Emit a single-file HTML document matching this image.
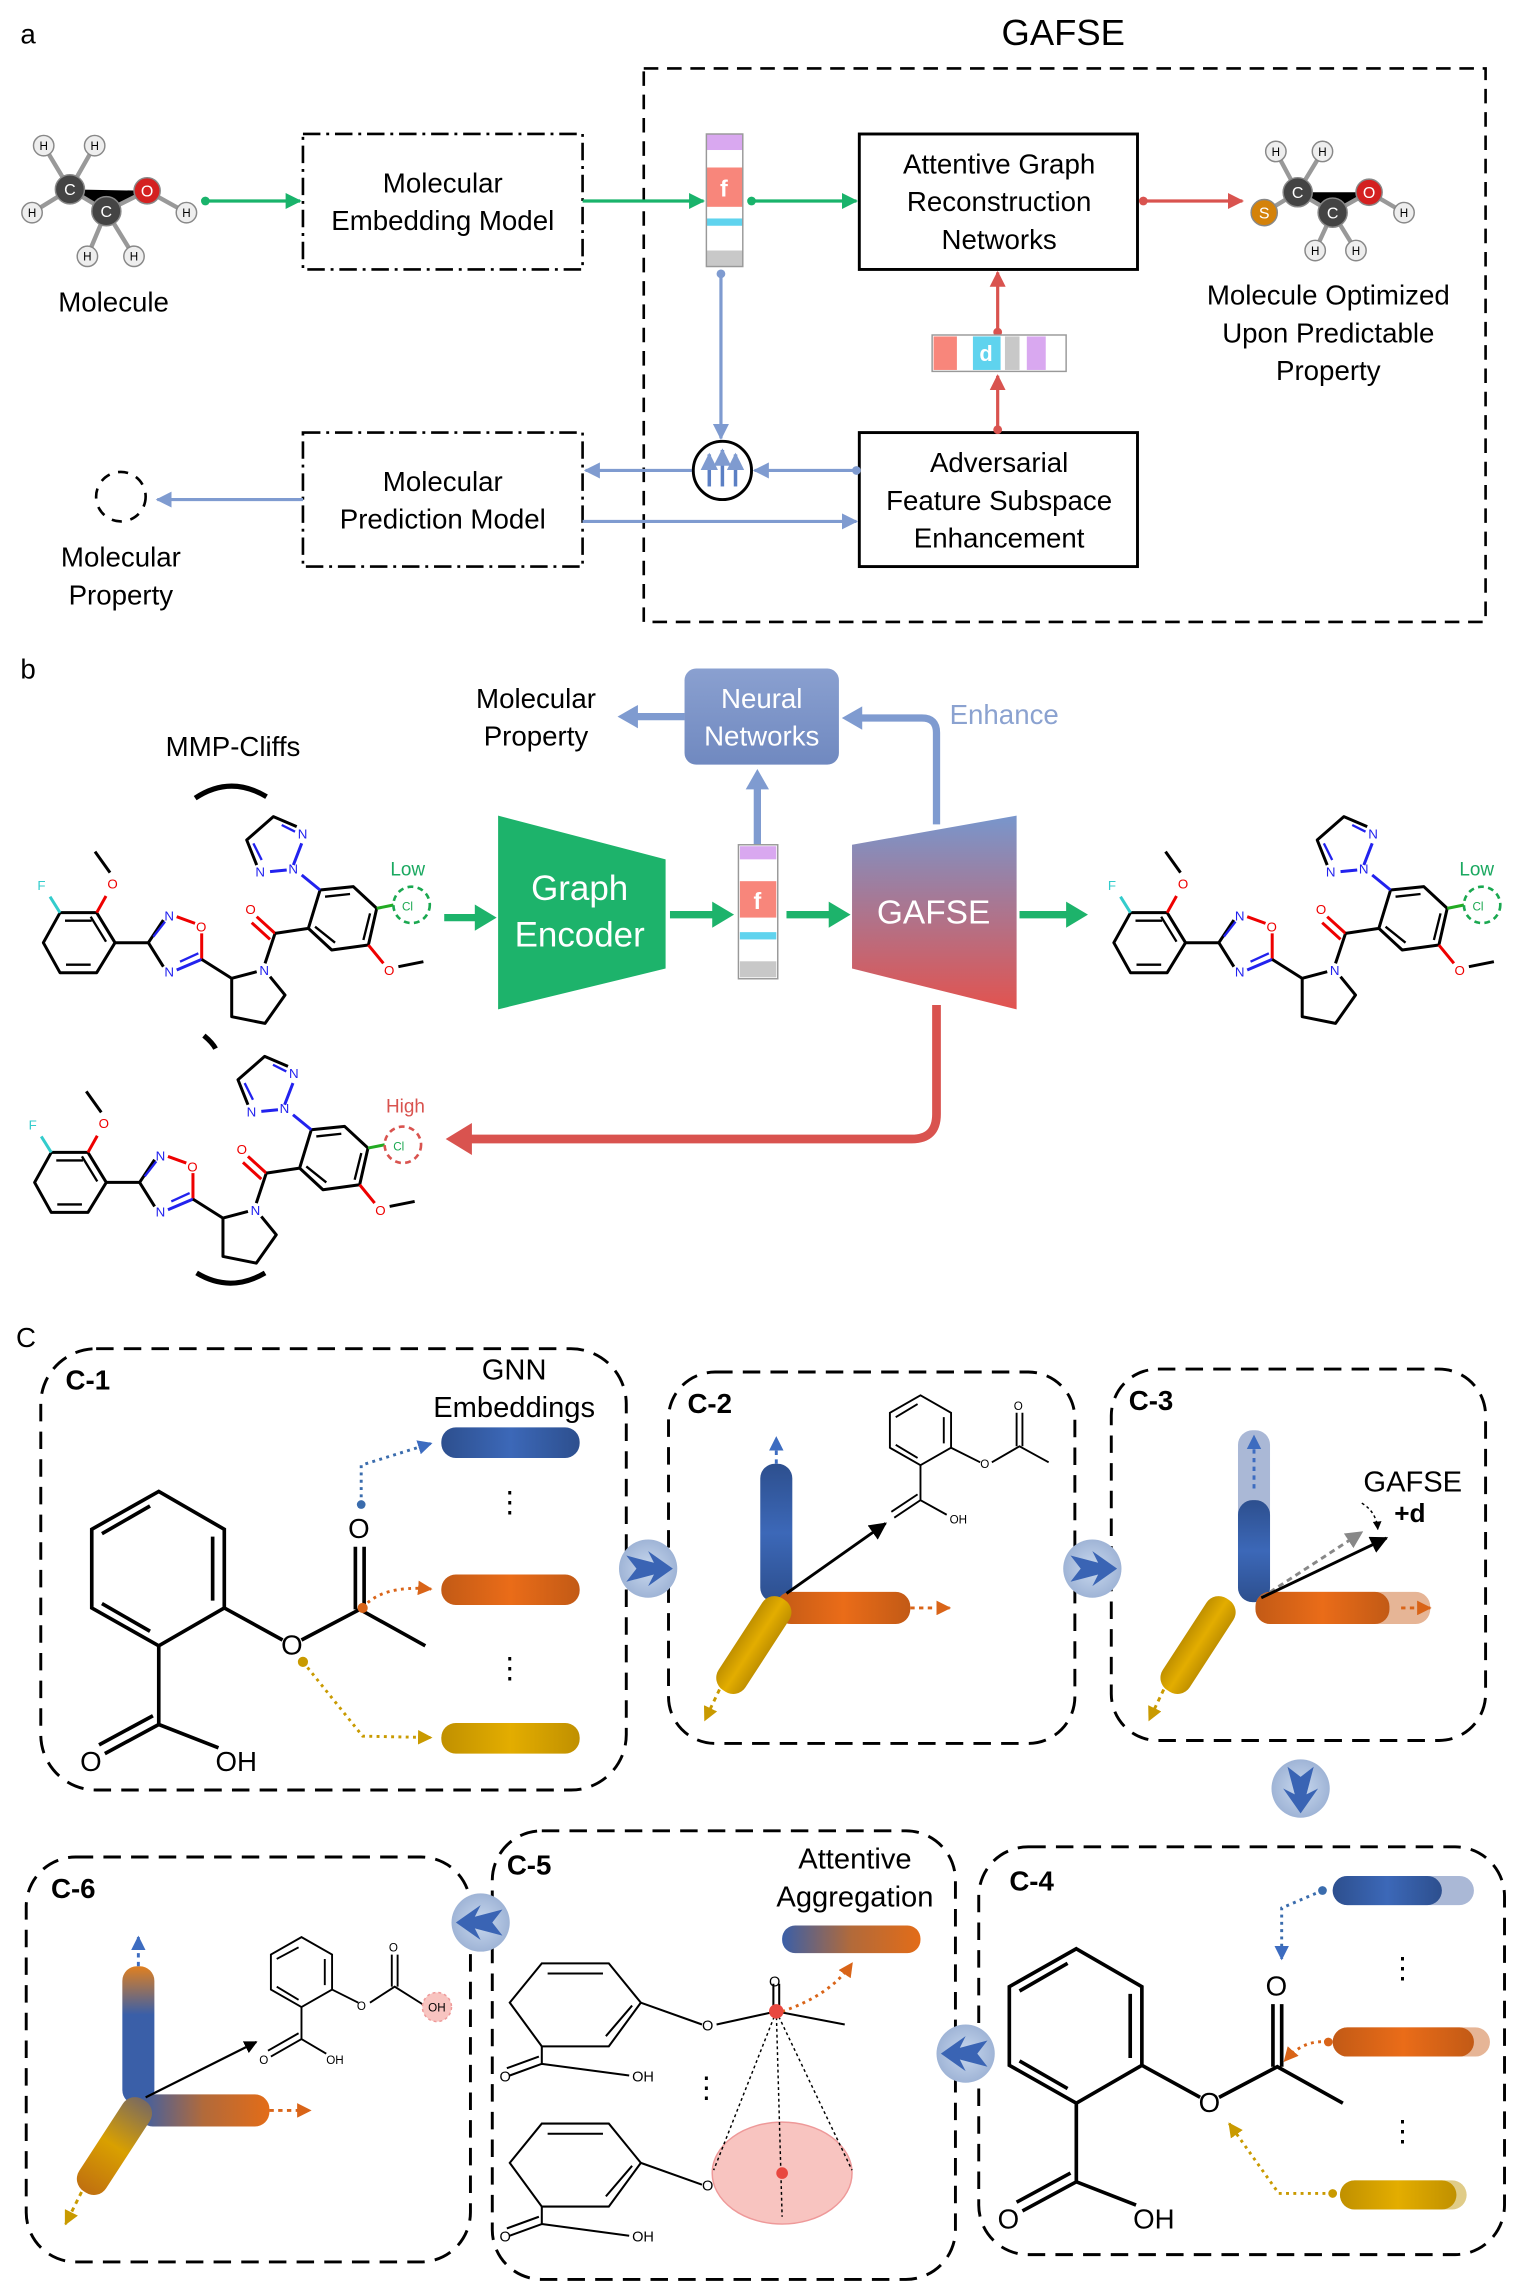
<!DOCTYPE html>
<html><head><meta charset="utf-8"><style>
html,body{margin:0;padding:0;background:#fff}
svg{display:block}
text{font-family:"Liberation Sans",sans-serif}
</style></head><body>
<svg width="1522" height="2296" viewBox="0 0 1045 1576.4" preserveAspectRatio="none" xmlns="http://www.w3.org/2000/svg">
<defs>
<marker id="ag" viewBox="0 0 10 10" refX="9" refY="5" markerWidth="5" markerHeight="5" orient="auto"><path d="M0,0L10,5L0,10z" fill="#19b36b"/></marker>
<marker id="ar" viewBox="0 0 10 10" refX="9" refY="5" markerWidth="5" markerHeight="5" orient="auto"><path d="M0,0L10,5L0,10z" fill="#d9534f"/></marker>
<marker id="ab" viewBox="0 0 10 10" refX="9" refY="5" markerWidth="5" markerHeight="5" orient="auto"><path d="M0,0L10,5L0,10z" fill="#7f9bd0"/></marker>
<marker id="ak" viewBox="0 0 10 10" refX="9" refY="5" markerWidth="6" markerHeight="6" orient="auto"><path d="M0,0L10,5L0,10z" fill="#000"/></marker>
<marker id="agr" viewBox="0 0 10 10" refX="9" refY="5" markerWidth="6" markerHeight="6" orient="auto"><path d="M0,0L10,5L0,10z" fill="#888"/></marker>
<marker id="abl" viewBox="0 0 10 10" refX="9" refY="5" markerWidth="5" markerHeight="5" orient="auto"><path d="M0,0L10,5L0,10z" fill="#3d6cc0"/></marker>
<marker id="aor" viewBox="0 0 10 10" refX="9" refY="5" markerWidth="5" markerHeight="5" orient="auto"><path d="M0,0L10,5L0,10z" fill="#d96418"/></marker>
<marker id="aye" viewBox="0 0 10 10" refX="9" refY="5" markerWidth="5" markerHeight="5" orient="auto"><path d="M0,0L10,5L0,10z" fill="#c99a00"/></marker>
<linearGradient id="gb" x1="0" x2="1"><stop offset="0" stop-color="#2d4f8e"/><stop offset=".5" stop-color="#3c68b8"/><stop offset="1" stop-color="#2d4f8e"/></linearGradient>
<linearGradient id="go" x1="0" x2="1"><stop offset="0" stop-color="#c25a16"/><stop offset=".5" stop-color="#ea6c18"/><stop offset="1" stop-color="#c25a16"/></linearGradient>
<linearGradient id="gy" x1="0" x2="1"><stop offset="0" stop-color="#c09000"/><stop offset=".5" stop-color="#e3ad00"/><stop offset="1" stop-color="#c09000"/></linearGradient>
<linearGradient id="gbv" x1="0" x2="0" y1="0" y2="1"><stop offset="0" stop-color="#2d4f8e"/><stop offset=".5" stop-color="#3c68b8"/><stop offset="1" stop-color="#2d4f8e"/></linearGradient>
<linearGradient id="gmix" x1="0" x2="1"><stop offset="0" stop-color="#3a5fa8"/><stop offset=".5" stop-color="#b26a3a"/><stop offset="1" stop-color="#e36c18"/></linearGradient>
<linearGradient id="gmixv" x1="0" x2="0" y1="0" y2="1"><stop offset="0" stop-color="#e08020"/><stop offset=".35" stop-color="#3a5fa8"/><stop offset="1" stop-color="#3a5fa8"/></linearGradient>
<linearGradient id="gmixd" x1="0" x2="0" y1="0" y2="1"><stop offset="0" stop-color="#7a6a60"/><stop offset=".5" stop-color="#d9a000"/><stop offset="1" stop-color="#c07010"/></linearGradient>
<linearGradient id="gaf" x1="0" x2="0" y1="0" y2="1"><stop offset="0" stop-color="#7896cc"/><stop offset="1" stop-color="#e2534f"/></linearGradient>
<linearGradient id="gnn" x1="0" x2="0" y1="0" y2="1"><stop offset="0" stop-color="#8aa0d0"/><stop offset="1" stop-color="#7089c0"/></linearGradient>
<radialGradient id="gcirc"><stop offset="0" stop-color="#c8d8ee"/><stop offset="1" stop-color="#9fb4d6"/></radialGradient>

<g id="mol" fill="none" stroke="#000" stroke-width="9" stroke-linejoin="round">
 <path d="M180,368L290,368L345,458L290,548L180,548L130,458Z"/>
 <path d="M195,392L275,392M198,524L272,524M318,455L272,380" stroke-width="7"/>
 <path d="M180,368L150,320" stroke="#3cc"/>
 <path d="M290,368L318,318" stroke="#e00"/><path d="M330,248L285,185"/>
 <path d="M345,458L445,458"/>
 <path d="M445,458L490,390" /><path d="M445,458L490,530"/>
 <path d="M460,440L495,395" stroke="#22e" stroke-width="7"/>
 <path d="M530,380L585,400" stroke="#e00"/><path d="M605,430L605,508" stroke="#e00"/>
 <path d="M605,508L530,540" stroke="#22e"/><path d="M595,490L540,515" stroke="#22e" stroke-width="7"/>
 <path d="M605,508L695,565L770,545"/>
 <path d="M810,560L855,615L795,700L695,680L695,565"/>
 <path d="M795,520L825,430"/>
 <path d="M825,430L770,380M810,448L755,398" stroke="#e00"/>
 <path d="M825,430L925,415L960,300L1060,290L1130,355L1105,465L995,480L925,415"/>
 <path d="M975,320L1050,312M1110,370L1090,450M1005,458L945,410" stroke-width="7"/>
 <path d="M960,300L905,255" stroke="#22e"/>
 <path d="M1105,465L1150,520" stroke="#e00"/><path d="M1195,530L1270,515"/>
 <path d="M1130,355L1180,345" stroke="#2a2"/>
 <path d="M880,225L905,160M860,240L810,245" stroke="#22e"/>
 <path d="M890,110L820,80L740,150L770,225" /><path d="M845,105L885,125M760,160L785,210" stroke="#22e" stroke-width="7"/>
 <g stroke="none" font-size="40" font-family="Liberation Sans,sans-serif">
  <text x="112" y="300" fill="#3cc">F</text><text x="322" y="295" fill="#e00">O</text>
  <text x="493" y="392" fill="#22e">N</text><text x="588" y="425" fill="#e00">O</text>
  <text x="493" y="560" fill="#22e">N</text><text x="778" y="555" fill="#22e">N</text>
  <text x="736" y="372" fill="#e00">O</text><text x="865" y="250" fill="#22e">N</text>
  <text x="893" y="145" fill="#22e">N</text><text x="766" y="260" fill="#22e">N</text>
  <text x="1152" y="555" fill="#e00">O</text>
 </g>
</g>

<g id="asp" fill="none" stroke="#000" stroke-width="2.5">
 <path d="M109,1024L154,1050L154,1104L109,1130L63,1104L63,1050Z"/>
 <path d="M146,1055L146,1099M103,1034L70,1053M70,1101L103,1120"/>
 <path d="M154,1104L194,1126M207,1126L247,1105L292,1130M244,1105L244,1062M250,1105L250,1062"/>
 <path d="M109,1130L109,1184L150,1200M109,1184L72,1204M105,1178L68,1198"/>
 <g stroke="none" fill="#000" font-size="19"><text x="193" y="1136">O</text><text x="239" y="1056">O</text><text x="55" y="1216">O</text><text x="148" y="1216">OH</text></g>
</g>

<g id="acirc"><circle r="20" fill="url(#gcirc)"/><path d="M-15,-9L4,-4L0,-12L17,0L0,12L4,4L-15,9L-8,0Z" fill="#3a64b4"/></g>
</defs>

<!-- ============ PART A ============ -->
<text x="14" y="30" font-size="19">a</text>
<text x="730" y="31" font-size="25" text-anchor="middle">GAFSE</text>
<rect x="442" y="47" width="578" height="380" fill="none" stroke="#000" stroke-width="1.8" stroke-dasharray="10,6"/>

<g stroke="#999" stroke-width="3">
 <path d="M48,130L73,145L101,131M48,130L30,100M48,130L65,100M48,130L22,146M73,145L60,176M73,145L92,176M101,131L128,146"/>
 <path d="M891,132L915,146L940,132M891,132L868,146M891,132L876,104M891,132L908,104M940,132L964,146M915,146L903,172M915,146L931,172"/>
</g>
<g stroke="#888" stroke-width="1">
 <circle cx="30" cy="100" r="7" fill="#eee"/><circle cx="65" cy="100" r="7" fill="#eee"/><circle cx="22" cy="146" r="7" fill="#eee"/>
 <circle cx="60" cy="176" r="7" fill="#eee"/><circle cx="92" cy="176" r="7" fill="#eee"/><circle cx="128" cy="146" r="7" fill="#eee"/>
 <circle cx="48" cy="130" r="10" fill="#444"/><circle cx="73" cy="145" r="10" fill="#444"/><circle cx="101" cy="131" r="9" fill="#d42020"/>
 <circle cx="876" cy="104" r="7" fill="#eee"/><circle cx="908" cy="104" r="7" fill="#eee"/><circle cx="964" cy="146" r="7" fill="#eee"/>
 <circle cx="903" cy="172" r="7" fill="#eee"/><circle cx="931" cy="172" r="7" fill="#eee"/>
 <circle cx="891" cy="132" r="10" fill="#444"/><circle cx="915" cy="146" r="10" fill="#444"/><circle cx="940" cy="132" r="9" fill="#d42020"/><circle cx="868" cy="146" r="9" fill="#d4820a"/>
</g>
<g font-size="8" text-anchor="middle" fill="#000"><text x="30" y="103">H</text><text x="65" y="103">H</text><text x="22" y="149">H</text><text x="60" y="179">H</text><text x="92" y="179">H</text><text x="128" y="149">H</text>
<text x="876" y="107">H</text><text x="908" y="107">H</text><text x="964" y="149">H</text><text x="903" y="175">H</text><text x="931" y="175">H</text></g>
<g font-size="11" text-anchor="middle" fill="#fff"><text x="48" y="134">C</text><text x="73" y="149">C</text><text x="101" y="135">O</text><text x="891" y="136">C</text><text x="915" y="150">C</text><text x="940" y="136">O</text><text x="868" y="150">S</text></g>

<text x="78" y="214" font-size="19" text-anchor="middle">Molecule</text>
<g font-size="19" text-anchor="middle"><text x="912" y="209">Molecule Optimized</text><text x="912" y="235">Upon Predictable</text><text x="912" y="261">Property</text></g>

<rect x="208" y="92" width="192" height="93" fill="none" stroke="#000" stroke-width="1.8" stroke-dasharray="12,4,2,4"/>
<text x="304" y="132" font-size="19" text-anchor="middle">Molecular</text><text x="304" y="158" font-size="19" text-anchor="middle">Embedding Model</text>
<rect x="208" y="297" width="192" height="92" fill="none" stroke="#000" stroke-width="1.8" stroke-dasharray="12,4,2,4"/>
<text x="304" y="337" font-size="19" text-anchor="middle">Molecular</text><text x="304" y="363" font-size="19" text-anchor="middle">Prediction Model</text>
<rect x="590" y="92" width="191" height="93" fill="#fff" stroke="#000" stroke-width="2"/>
<g font-size="19" text-anchor="middle"><text x="686" y="119">Attentive Graph</text><text x="686" y="145">Reconstruction</text><text x="686" y="171">Networks</text></g>
<rect x="590" y="297" width="191" height="92" fill="#fff" stroke="#000" stroke-width="2"/>
<g font-size="19" text-anchor="middle"><text x="686" y="324">Adversarial</text><text x="686" y="350">Feature Subspace</text><text x="686" y="376">Enhancement</text></g>

<g stroke-width="2.2" fill="none">
 <path d="M141,138L206,138" stroke="#19b36b" marker-end="url(#ag)"/><circle cx="141" cy="138" r="3" fill="#19b36b" stroke="none"/>
 <path d="M400,138L483,138" stroke="#19b36b" marker-end="url(#ag)"/>
 <path d="M514,138L588,138" stroke="#19b36b" marker-end="url(#ag)"/><circle cx="516" cy="138" r="3" fill="#19b36b" stroke="none"/>
 <path d="M785,138L853,138" stroke="#d9534f" marker-end="url(#ar)"/><circle cx="785" cy="138" r="3" fill="#d9534f" stroke="none"/>
 <path d="M685,297L685,258" stroke="#d9534f" marker-end="url(#ar)"/><circle cx="685" cy="295" r="3" fill="#d9534f" stroke="none"/>
 <path d="M685,230L685,187" stroke="#d9534f" marker-end="url(#ar)"/><circle cx="685" cy="228" r="3" fill="#d9534f" stroke="none"/>
 <path d="M495,188L495,301" stroke="#7f9bd0" marker-end="url(#ab)"/><circle cx="495" cy="188" r="3" fill="#7f9bd0" stroke="none"/>
 <path d="M590,323L518,323" stroke="#7f9bd0" marker-end="url(#ab)"/><circle cx="588" cy="323" r="3" fill="#7f9bd0" stroke="none"/>
 <path d="M475,323L402,323" stroke="#7f9bd0" marker-end="url(#ab)"/>
 <path d="M400,358L588,358" stroke="#7f9bd0" marker-end="url(#ab)"/>
 <path d="M208,343L108,343" stroke="#7f9bd0" marker-end="url(#ab)"/>
</g>
<circle cx="496" cy="323" r="20" fill="#fff" stroke="#000" stroke-width="2"/>
<g stroke="#5b7fc4" stroke-width="2.4" fill="none" marker-end="url(#ab)"><path d="M487,334L487,312"/><path d="M496,334L496,309"/><path d="M505,334L505,312"/></g>
<circle cx="83" cy="341" r="17" fill="none" stroke="#000" stroke-width="1.8" stroke-dasharray="7,6"/>
<text x="83" y="389" font-size="19" text-anchor="middle">Molecular</text><text x="83" y="415" font-size="19" text-anchor="middle">Property</text>

<g stroke="none">
 <rect x="485" y="92" width="25" height="91" fill="#fff"/>
 <rect x="485" y="92" width="25" height="11" fill="#d9a8f0"/>
 <rect x="485" y="115" width="25" height="27" fill="#f8867b"/>
 <rect x="485" y="150" width="25" height="5" fill="#5fd3ee"/>
 <rect x="485" y="172" width="25" height="11" fill="#c8c8c8"/>
</g>
<rect x="485" y="92" width="25" height="91" fill="none" stroke="#999" stroke-width="1"/>
<text x="497" y="135" font-size="16" fill="#fff" text-anchor="middle" font-family="Liberation Serif,serif" font-weight="bold">f</text>
<rect x="640" y="230" width="92" height="25" fill="#fff" stroke="#999"/>
<rect x="641" y="231" width="16" height="23" fill="#f8867b"/>
<rect x="668" y="231" width="19" height="23" fill="#5fd3ee"/>
<rect x="690" y="231" width="10" height="23" fill="#c8c8c8"/>
<rect x="705" y="231" width="13" height="23" fill="#d9a8f0"/>
<text x="677" y="248" font-size="15" fill="#fff" text-anchor="middle" font-family="Liberation Serif,serif" font-weight="bold">d</text>

<!-- ============ PART B ============ -->
<text x="14" y="466" font-size="19">b</text>
<text x="368" y="486" font-size="19" text-anchor="middle">Molecular</text><text x="368" y="512" font-size="19" text-anchor="middle">Property</text>
<text x="160" y="519" font-size="19" text-anchor="middle">MMP-Cliffs</text>
<rect x="470" y="459" width="106" height="66" rx="8" fill="url(#gnn)"/>
<text x="523" y="486" font-size="19" fill="#fff" text-anchor="middle">Neural</text><text x="523" y="512" font-size="19" fill="#fff" text-anchor="middle">Networks</text>
<text x="652" y="497" font-size="19" fill="#8ba2d0">Enhance</text>
<g fill="none" stroke="#7f9bd0" stroke-width="5">
 <path d="M470,492L436,492"/><path d="M520,580L520,540"/><path d="M643,566L643,503Q643,493 633,493L590,493"/>
</g>
<path d="M424,492L438,484L438,500Z" fill="#7f9bd0"/><path d="M520,528L512,542L528,542Z" fill="#7f9bd0"/><path d="M578,493L592,485L592,501Z" fill="#7f9bd0"/>

<use href="#mol" transform="translate(0,542.4) scale(0.2289)"/>
<use href="#mol" transform="translate(735,542.4) scale(0.2289)"/>
<use href="#mol" transform="translate(-6,707) scale(0.2289)"/>
<circle cx="282.6" cy="621.3" r="12.5" fill="none" stroke="#1aa850" stroke-width="1.8" stroke-dasharray="4,3"/>
<text x="268" y="601" font-size="13" fill="#1aa860">Low</text><text x="276" y="625" font-size="8" fill="#1aa850">Cl</text>
<circle cx="1017.6" cy="621.3" r="12.5" fill="none" stroke="#1aa850" stroke-width="1.8" stroke-dasharray="4,3"/>
<text x="1002" y="601" font-size="13" fill="#1aa860">Low</text><text x="1011" y="625" font-size="8" fill="#1aa850">Cl</text>
<circle cx="276.6" cy="786" r="12.5" fill="none" stroke="#d9534f" stroke-width="1.8" stroke-dasharray="4,3"/>
<text x="265" y="764" font-size="13" fill="#d9534f">High</text><text x="270" y="790" font-size="8" fill="#1aa850">Cl</text>
<g fill="none" stroke="#000" stroke-width="3.5">
 <path d="M134,548Q158,532 183,547"/><path d="M140,711Q146,716 148,720"/><path d="M135,874Q158,888 182,874"/>
</g>

<path d="M342,560L457,590L457,665L342,693Z" fill="#1db36b"/>
<text x="398" y="618" font-size="24" fill="#fff" text-anchor="middle">Graph</text><text x="398" y="650" font-size="24" fill="#fff" text-anchor="middle">Encoder</text>
<path d="M585,580L698,560L698,693L585,665Z" fill="url(#gaf)"/>
<text x="641" y="634" font-size="23" fill="#fff" text-anchor="middle">GAFSE</text>
<g stroke="#1db36b" stroke-width="5" fill="none"><path d="M305,630L328,630"/><path d="M460,628L490,628"/><path d="M540,628L570,628"/><path d="M700,628L733,628"/></g>
<g fill="#1db36b"><path d="M341,630L326,621L326,639Z"/><path d="M504,628L489,619L489,637Z"/><path d="M584,628L569,619L569,637Z"/><path d="M747,628L732,619L732,637Z"/></g>
<rect x="507" y="580" width="27" height="92" fill="#fff" stroke="#999"/>
<rect x="508" y="581" width="25" height="9" fill="#d9a8f0"/>
<rect x="508" y="605" width="25" height="25" fill="#f8867b"/>
<rect x="508" y="640" width="25" height="5" fill="#5fd3ee"/>
<rect x="508" y="660" width="25" height="11" fill="#c8c8c8"/>
<text x="520" y="624" font-size="16" fill="#fff" text-anchor="middle" font-family="Liberation Serif,serif" font-weight="bold">f</text>
<path d="M643,690L643,765Q643,782 626,782L322,782" fill="none" stroke="#d9534f" stroke-width="6"/>
<path d="M306,782L324,771L324,793Z" fill="#d9534f"/>

<!-- ============ PART C ============ -->
<text x="11" y="925" font-size="19">C</text>
<g fill="none" stroke="#000" stroke-width="2" stroke-dasharray="12,7">
 <rect x="28" y="926" width="402" height="303" rx="38"/>
 <rect x="459" y="942" width="279" height="255" rx="32"/>
 <rect x="763" y="940" width="257" height="255" rx="32"/>
 <rect x="672" y="1268" width="361" height="280" rx="34"/>
 <rect x="338" y="1257" width="318" height="308" rx="34"/>
 <rect x="18" y="1275" width="305" height="278" rx="34"/>
</g>
<g font-size="19" font-weight="bold"><text x="45" y="954">C-1</text><text x="472" y="970">C-2</text><text x="775" y="968">C-3</text><text x="693" y="1298">C-4</text><text x="348" y="1287">C-5</text><text x="35" y="1303">C-6</text></g>

<!-- C-1 -->
<text x="353" y="947" font-size="20" text-anchor="middle">GNN</text><text x="353" y="973" font-size="20" text-anchor="middle">Embeddings</text>
<use href="#asp"/>
<rect x="303" y="980" width="95" height="21" rx="10" fill="url(#gb)"/>
<rect x="303" y="1081" width="95" height="21" rx="10" fill="url(#go)"/>
<rect x="303" y="1183" width="95" height="21" rx="10" fill="url(#gy)"/>
<g fill="none" stroke-width="2" stroke-dasharray="2,3">
 <path d="M248,1033L248,1006L296,991" stroke="#3a6cad" marker-end="url(#abl)"/>
 <path d="M249,1104Q262,1088 296,1091" stroke="#d96418" marker-end="url(#aor)"/>
 <path d="M208,1141L249,1192L296,1193" stroke="#c99a00" marker-end="url(#aye)"/>
</g>
<circle cx="248" cy="1033" r="3" fill="#3a6cad"/><circle cx="249" cy="1104" r="3.5" fill="#d96418"/><circle cx="208" cy="1141" r="3.5" fill="#c99a00"/>
<g font-size="20" text-anchor="middle"><text x="350" y="1038">⋮</text><text x="350" y="1152">⋮</text></g>

<!-- C-4 -->
<use href="#asp" transform="translate(630,314)"/>
<rect x="915" y="1288" width="97" height="20" rx="10" fill="#aab8d6"/><rect x="915" y="1288" width="75" height="20" rx="10" fill="url(#gb)"/>
<rect x="915" y="1392" width="108" height="20" rx="10" fill="#e6b596"/><rect x="915" y="1392" width="97" height="20" rx="10" fill="url(#go)"/>
<rect x="920" y="1497" width="87" height="20" rx="10" fill="#e0cc88"/><rect x="920" y="1497" width="80" height="20" rx="10" fill="url(#gy)"/>
<g fill="none" stroke-width="2" stroke-dasharray="2,3">
 <path d="M908,1298L880,1310L880,1345" stroke="#3a6cad" marker-end="url(#abl)"/>
 <path d="M912,1402Q895,1400 882,1415" stroke="#d96418" marker-end="url(#aor)"/>
 <path d="M915,1506L878,1506L844,1458" stroke="#c99a00" marker-end="url(#aye)"/>
</g>
<circle cx="908" cy="1298" r="3" fill="#3a6cad"/><circle cx="912" cy="1402" r="3" fill="#d96418"/><circle cx="915" cy="1506" r="3" fill="#c99a00"/>
<g font-size="20" text-anchor="middle"><text x="963" y="1358">⋮</text><text x="963" y="1470">⋮</text></g>

<!-- C-2 axes -->
<g id="axes">
<rect x="522" y="1005" width="22" height="95" rx="10" fill="url(#gbv)"/>
<rect x="533" y="1093" width="92" height="22" rx="10" fill="url(#go)"/>
<rect x="-11" y="0" width="22" height="75" rx="10" fill="url(#gy)" transform="translate(538,1098) rotate(33)"/>
</g>
<g fill="none" stroke-width="2" stroke-dasharray="3,3">
 <path d="M533,1005L533,987" stroke="#3d6cc0" marker-end="url(#abl)"/>
 <path d="M625,1104L652,1104" stroke="#d96418" marker-end="url(#aor)"/>
 <path d="M494,1160L484,1181" stroke="#c99a00" marker-end="url(#aye)"/>
</g>
<path d="M540,1094L608,1046" stroke="#000" stroke-width="2" marker-end="url(#ak)"/>
<g fill="none" stroke="#000" stroke-width="1.3">
 <path d="M632,958L653,970L653,994L632,1006L611,994L611,970Z"/><path d="M648,973L648,991M630,1001L615,992M615,973L630,964"/>
 <path d="M653,994L673,1004M681,1004L700,993L720,1004M698,993L698,970M702,993L702,970"/>
 <path d="M632,1006L632,1030L614,1042M630,1026L612,1038M632,1030L650,1040"/>
</g>
<g font-size="8"><text x="673" y="1008">O</text><text x="696" y="968">O</text><text x="652" y="1046">OH</text></g>

<!-- C-3 -->
<rect x="850" y="982" width="22" height="118" rx="10" fill="#aab8d6"/>
<rect x="850" y="1030" width="22" height="70" rx="10" fill="url(#gbv)"/>
<rect x="862" y="1093" width="120" height="22" rx="10" fill="#e6b596"/>
<rect x="862" y="1093" width="92" height="22" rx="10" fill="url(#go)"/>
<rect x="-11" y="0" width="22" height="75" rx="10" fill="url(#gy)" transform="translate(843,1098) rotate(33)"/>
<g fill="none" stroke-width="2" stroke-dasharray="3,3">
 <path d="M861,1022L861,986" stroke="#3d6cc0" marker-end="url(#abl)"/>
 <path d="M962,1104L982,1104" stroke="#d96418" marker-end="url(#aor)"/>
 <path d="M799,1160L789,1181" stroke="#c99a00" marker-end="url(#aye)"/>
</g>
<path d="M866,1097L935,1052" stroke="#888" stroke-width="2" stroke-dasharray="4,3" marker-end="url(#agr)"/>
<path d="M866,1097L952,1056" stroke="#000" stroke-width="2" marker-end="url(#ak)"/>
<path d="M935,1032Q945,1038 946,1050" fill="none" stroke="#000" stroke-width="1" stroke-dasharray="2,2" marker-end="url(#ak)"/>
<text x="970" y="1024" font-size="20" text-anchor="middle">GAFSE</text>
<text x="968" y="1045" font-size="18" text-anchor="middle" font-family="Liberation Serif,serif" font-weight="bold">+d</text>

<!-- C-5 -->
<text x="587" y="1283" font-size="20" text-anchor="middle">Attentive</text><text x="587" y="1309" font-size="20" text-anchor="middle">Aggregation</text>
<rect x="537" y="1322" width="95" height="19" rx="9" fill="url(#gmix)"/>
<g id="c5m" fill="none" stroke="#000" stroke-width="1.4">
 <path d="M372,1348L418,1348L440,1375L418,1405L372,1405L350,1375Z"/><path d="M376,1355L414,1355M416,1398L434,1377"/>
 <path d="M440,1375L482,1390M492,1390L533,1381L580,1390M531,1381L531,1362M535,1381L535,1362"/>
 <path d="M372,1405L372,1417L350,1425M370,1412L348,1420M372,1417L432,1425"/>
 <g stroke="none" fill="#000" font-size="10"><text x="482" y="1394">O</text><text x="528" y="1364">O</text><text x="343" y="1429">O</text><text x="434" y="1429">OH</text></g>
</g>
<use href="#c5m" transform="translate(0,110)"/>
<g fill="none" stroke-width="2" stroke-dasharray="2,3"><path d="M537,1381Q570,1370 585,1348" stroke="#d96418" marker-end="url(#aor)"/></g>
<ellipse cx="537" cy="1492" rx="48" ry="35" fill="#f8c4c0" stroke="#e99" stroke-width="1"/>
<g stroke="#000" stroke-width="1" stroke-dasharray="2,2" fill="none"><path d="M533,1381L490,1490M533,1381L585,1490M533,1381L537,1522"/></g>
<circle cx="533" cy="1381" r="5" fill="#e84840"/><circle cx="537" cy="1492" r="4" fill="#e84840"/>
<text x="485" y="1440" font-size="20" text-anchor="middle">⋮</text>

<!-- C-6 -->
<rect x="84" y="1350" width="22" height="95" rx="10" fill="url(#gmixv)"/>
<rect x="95" y="1438" width="90" height="22" rx="10" fill="url(#gmix)"/>
<rect x="-11" y="0" width="22" height="75" rx="10" fill="url(#gmixd)" transform="translate(99,1442) rotate(33)"/>
<g fill="none" stroke-width="2" stroke-dasharray="3,3">
 <path d="M95,1350L95,1330" stroke="#3d6cc0" marker-end="url(#abl)"/>
 <path d="M185,1449L213,1449" stroke="#d96418" marker-end="url(#aor)"/>
 <path d="M56,1505L45,1527" stroke="#c99a00" marker-end="url(#aye)"/>
</g>
<path d="M100,1440L176,1402" stroke="#000" stroke-width="1.5" marker-end="url(#ak)"/>
<g fill="none" stroke="#000" stroke-width="1.3">
 <path d="M207,1330L228,1342L228,1366L207,1378L186,1366L186,1342Z"/><path d="M223,1345L223,1363M205,1373L190,1364M190,1345L205,1337"/>
 <path d="M228,1366L246,1375M254,1375L271,1364L290,1376M269,1364L269,1342M273,1364L273,1342"/>
 <path d="M207,1378L207,1400L186,1412M205,1396L184,1408M207,1400L224,1410"/>
</g>
<circle cx="300" cy="1378" r="10" fill="#f8c4c0" stroke="#e99" stroke-width="1" stroke-dasharray="2,2"/>
<g font-size="8"><text x="245" y="1380">O</text><text x="267" y="1340">O</text><text x="294" y="1381">OH</text><text x="178" y="1417">O</text><text x="224" y="1417">OH</text></g>

<use href="#acirc" transform="translate(445,1077)"/>
<use href="#acirc" transform="translate(750,1077)"/>
<use href="#acirc" transform="translate(893,1228) rotate(90)"/>
<use href="#acirc" transform="translate(330,1320) rotate(180)"/>
<use href="#acirc" transform="translate(663,1410) rotate(180)"/>
</svg>
</body></html>
